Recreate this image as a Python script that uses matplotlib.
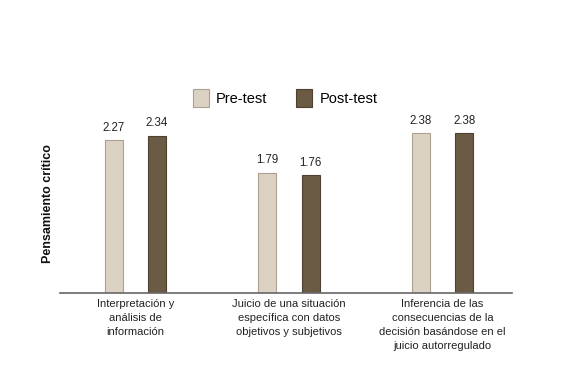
import matplotlib
matplotlib.use("Agg")
import matplotlib.pyplot as plt
import numpy as np

plt.rcParams['font.family'] = ['Liberation Sans', 'DejaVu Sans']

categories = ["Interpretación y\nanálisis de\ninformación",
              "Juicio de una situación\nespecífica con datos\nobjetivos y subjetivos",
              "Inferencia de las\nconsecuencias de la\ndecisión basándose en el\njuicio autorregulado"]
pre_test = [2.27, 1.79, 2.38]
post_test = [2.34, 1.76, 2.38]

fig = plt.figure(figsize=(5.68, 3.72), dpi=100)
ax = fig.add_axes([0.1056, 0.2124, 0.7954, 0.5426])

x = np.arange(len(categories))
w = 0.117
off = 0.141
b1 = ax.bar(x - off, pre_test, w, color="#dbd2c3", edgecolor="#aaa191", linewidth=0.8, label="Pre-test")
b2 = ax.bar(x + off, post_test, w, color="#6b5b45", edgecolor="#4d4131", linewidth=0.8, label="Post-test")

for bars, vals in ((b1, pre_test), (b2, post_test)):
    for b, v in zip(bars, vals):
        ax.text(b.get_x() + b.get_width() / 2, v + 0.09, f"{v:.2f}",
                ha="center", va="bottom", fontsize=8.3, color="#222222")

ax.set_xlim(-0.49, 2.45)
ax.set_ylim(0, 3.0)
ax.set_xticks(x)
ax.set_xticklabels(categories, fontsize=8, color="#222222", linespacing=1.5)
ax.tick_params(axis="x", length=0, pad=4)
ax.set_yticks([])
for s in ("top", "right", "left"):
    ax.spines[s].set_visible(False)
ax.spines["bottom"].set_color("#666666")
ax.spines["bottom"].set_linewidth(1.2)

fig.text(0.085, 0.452, "Pensamiento crítico", rotation=90, ha="center", va="center",
         fontsize=9, fontweight="bold", color="#111111")

fig.legend(loc="center", bbox_to_anchor=(0.502, 0.737), ncol=2, frameon=False,
           fontsize=10.5, handlelength=1.1, handleheight=1.5, columnspacing=2.0, handletextpad=0.5)

fig.savefig("out.png", dpi=100)
